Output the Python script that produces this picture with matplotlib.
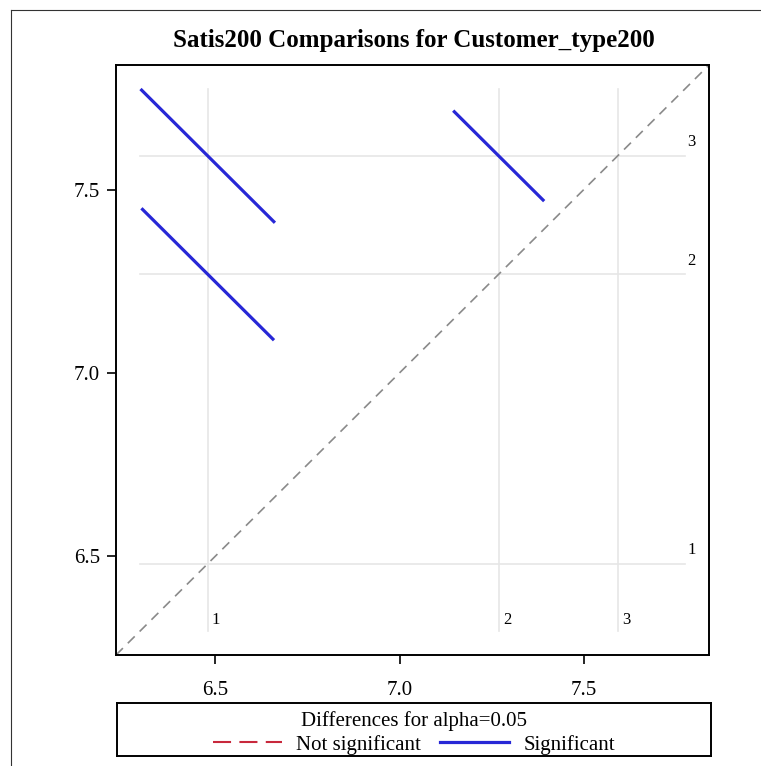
import matplotlib
matplotlib.use("Agg")
import matplotlib.pyplot as plt
from matplotlib.lines import Line2D
import numpy as np

plt.rcParams["font.family"] = ["Liberation Serif", "DejaVu Serif"]
plt.rcParams["lines.scale_dashes"] = False

# LS-means of Satis200 by Customer_type200 level
levels = ["1", "2", "3"]
means = [6.479, 7.269, 7.592]

# pairwise differences (first - second) with 95% confidence limits
pairs = [(0, 1), (0, 2), (1, 2)]
diff_lower = [-1.151, -1.479, -0.570]
diff_upper = [-0.431, -0.749, -0.076]

axis_lo, axis_hi = 6.23, 7.84
ticks = [6.5, 7.0, 7.5]

blue = "#2727d6"
red = "#c8283c"

W, H = 761, 766
fig = plt.figure(figsize=(W / 100, H / 100), dpi=100)


def px_box(x0, y0, x1, y1):
    return [x0 / W, 1 - y1 / H, (x1 - x0) / W, (y1 - y0) / H]


ax = fig.add_axes(px_box(116, 65, 709, 655))
ax.set_xlim(axis_lo, axis_hi)
ax.set_ylim(axis_lo, axis_hi)

# segments for each comparison, slope -1 through (mean_i, mean_j)
seg_ends = []
for (i, j), lo, hi in zip(pairs, diff_lower, diff_upper):
    h = (hi - lo) / 4
    xs = [means[i] - h, means[i] + h]
    ys = [means[j] + h, means[j] - h]
    seg_ends.append((xs, ys))

ref_lo = min(min(xs + ys) for xs, ys in seg_ends)
ref_hi = max(max(xs + ys) for xs, ys in seg_ends)

# reference lines at each mean
for lab, m in zip(levels, means):
    ax.plot([m, m], [ref_lo, ref_hi], color="#e6e6e6", lw=1.2, zorder=1)
    ax.plot([ref_lo, ref_hi], [m, m], color="#e6e6e6", lw=1.2, zorder=1)
    ax.annotate(lab, (m, ref_lo), xytext=(3, 2), textcoords="offset points",
                ha="left", va="bottom", fontsize=12)
    ax.annotate(lab, (ref_hi, m), xytext=(2, 4), textcoords="offset points",
                ha="left", va="bottom", fontsize=12)

# diagonal of equal means
ax.plot([axis_lo, axis_hi], [axis_lo, axis_hi], color="#8a8a8a", lw=1.2,
        dashes=(7, 5), zorder=2)

for (xs, ys), lo, hi in zip(seg_ends, diff_lower, diff_upper):
    sig = hi < 0 or lo > 0
    if sig:
        ax.plot(xs, ys, color=blue, lw=2.3, solid_capstyle="butt", zorder=3)
    else:
        ax.plot(xs, ys, color=red, lw=1.5, dashes=(13, 6), zorder=3)

ax.set_xticks(ticks)
ax.set_yticks(ticks)
ax.set_xticklabels([f"{t:.1f}" for t in ticks])
ax.set_yticklabels([f"{t:.1f}" for t in ticks])
ax.tick_params(direction="out", length=6.5, width=1.2, labelsize=15)
ax.tick_params(axis="x", pad=12)
ax.tick_params(axis="y", pad=5)
for sp in ax.spines.values():
    sp.set_linewidth(1.4)

fig.text(414 / W, 1 - 40 / H, "Satis200 Comparisons for Customer_type200",
         ha="center", va="center", fontsize=18, fontweight="bold")

# legend box below the plot
lax = fig.add_axes(px_box(117, 703, 711, 756))
lax.set_xticks([])
lax.set_yticks([])
for sp in lax.spines.values():
    sp.set_linewidth(1.4)
handles = [
    Line2D([], [], color=red, lw=1.5, dashes=(13, 6)),
    Line2D([], [], color=blue, lw=2.3),
]
leg = lax.legend(handles, ["Not significant", "Significant"], ncol=2,
                 loc="center", bbox_to_anchor=(0.5, 0.44), frameon=False,
                 fontsize=15, title="Differences for alpha=0.05",
                 title_fontsize=15, handlelength=3.3, handletextpad=0.7,
                 columnspacing=0.9, borderpad=0, labelspacing=0)
leg._legend_box.sep = 3

# outer frame edges
fig.add_artist(Line2D([11 / W, 1], [1 - 10 / H, 1 - 10 / H], color="#333333", lw=0.8))
fig.add_artist(Line2D([11 / W, 11 / W], [0, 1 - 10 / H], color="#333333", lw=0.8))

fig.savefig("out.png", dpi=100)
